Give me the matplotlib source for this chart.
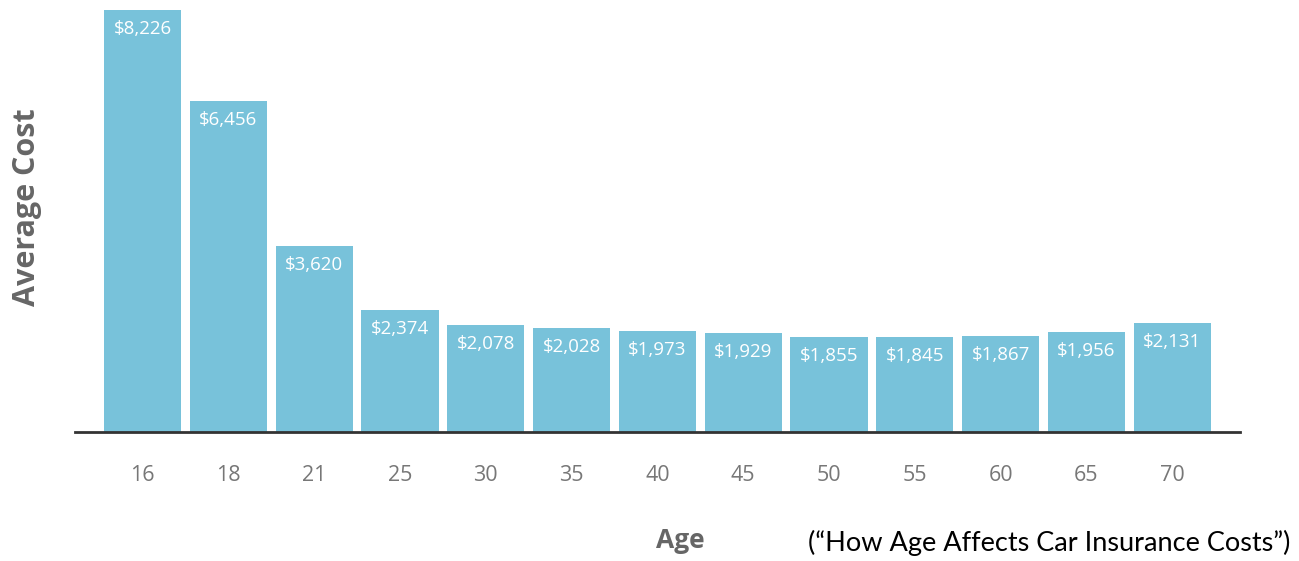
import matplotlib
matplotlib.use("Agg")
import matplotlib.pyplot as plt
from matplotlib.transforms import offset_copy

ages = ["16", "18", "21", "25", "30", "35", "40", "45", "50", "55", "60", "65", "70"]
costs = [8226, 6456, 3620, 2374, 2078, 2028, 1973, 1929, 1855, 1845, 1867, 1956, 2131]

W, H = 1299, 561
fig = plt.figure(figsize=(W / 100, H / 100), dpi=100)
ax = fig.add_axes([75 / W, (H - 432) / H, (1240 - 75) / W, 432 / H])

x = list(range(len(ages)))
ax.bar(x, costs, width=0.9, color="#78C2DA", zorder=2)
ax.set_xlim(-0.787, 12.79)
ax.set_ylim(0, 8421)

for s in ["top", "right", "left"]:
    ax.spines[s].set_visible(False)
ax.spines["bottom"].set_color("#333333")
ax.spines["bottom"].set_linewidth(2)
ax.set_yticks([])
ax.set_xticks(x)
ax.set_xticklabels(ages, fontsize=15.5, color="#777777", family="Open Sans", va="center")
ax.tick_params(axis="x", length=0, pad=31)

for xi, c in zip(x, costs):
    t = offset_copy(ax.transData, fig=fig, x=0, y=-19, units="dots")
    ax.text(xi, c, f"${c:,}", transform=t, ha="center", va="center",
            color="white", fontsize=13.5, family="Open Sans")

fig.text(680 / W, 1 - 541 / H, "Age", ha="center", va="center", fontsize=19,
         fontweight="bold", color="#666666", family="Open Sans")
fig.text(27 / W, 1 - 207 / H, "Average Cost", ha="center", va="center", fontsize=22,
         fontweight="bold", color="#666666", family="Open Sans", rotation=90)
fig.text(1290 / W, 1 - 543 / H, "(\u201cHow Age Affects Car Insurance Costs\u201d)",
         ha="right", va="center", fontsize=19.5, color="black", family="Lato")

fig.savefig("out.png", dpi=100)
